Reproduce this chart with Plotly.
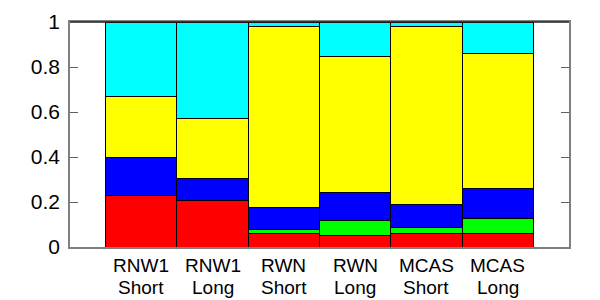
import plotly.graph_objects as go

names = ["RNW1", "RNW1", "RWN", "RWN", "MCAS", "MCAS"]
lengths = ["Short", "Long", "Short", "Long", "Short", "Long"]
red = [0.228, 0.205, 0.061, 0.052, 0.061, 0.061]
green = [0.0, 0.0, 0.019, 0.067, 0.024, 0.064]
blue = [0.171, 0.099, 0.097, 0.123, 0.105, 0.133]
yellow = [0.271, 0.266, 0.804, 0.606, 0.790, 0.600]
cyan = [0.330, 0.430, 0.019, 0.152, 0.020, 0.142]
y_ticks = [0, 0.2, 0.4, 0.6, 0.8, 1]
y_labels = ["0", "0.2", "0.4", "0.6", "0.8", "1"]

series = [(red, "#ff0000"), (green, "#00ff00"), (blue, "#0000ff"), (yellow, "#ffff00"), (cyan, "#00ffff")]
xpos = list(range(1, len(names) + 1))

fig = go.Figure()
for vals, col in series:
    fig.add_trace(go.Bar(x=xpos, y=vals, width=1, marker=dict(color=col, line=dict(color="#000000", width=1)),
                         showlegend=False, hoverinfo="skip"))

fig.update_layout(
    barmode="stack",
    width=600, height=300,
    margin=dict(l=70, r=31, t=22, b=53, autoexpand=False),
    plot_bgcolor="white", paper_bgcolor="white",
    font=dict(family="Liberation Sans, Arial, sans-serif", color="#000000"),
)
fig.update_xaxes(range=[0, 7], tickvals=xpos, showticklabels=False, ticks="", automargin=False,
                 showline=True, linecolor="#808080", linewidth=1.5, mirror=True,
                 showgrid=False, zeroline=False)
fig.update_yaxes(range=[0, 1], tickvals=y_ticks, ticktext=y_labels, ticks="inside", ticklen=8, automargin=False,
                 tickcolor="#606060", showline=True, linecolor="#808080", linewidth=1.5, mirror="allticks",
                 showgrid=False, zeroline=False, tickfont=dict(size=21), ticklabelstandoff=4)
fig.add_shape(type="line", xref="paper", yref="paper", x0=0, x1=1, y0=1, y1=1,
              line=dict(color="#222222", width=1.5))

for xp, n, l in zip(xpos, names, lengths):
    fig.add_annotation(x=xp, xref="x", y=-0.084, yref="paper", text=n, showarrow=False,
                       xanchor="center", yanchor="middle", font=dict(size=19))
    fig.add_annotation(x=xp, xref="x", y=-0.178, yref="paper", text=l, showarrow=False,
                       xanchor="center", yanchor="middle", font=dict(size=19))

fig.write_html("out.html")
